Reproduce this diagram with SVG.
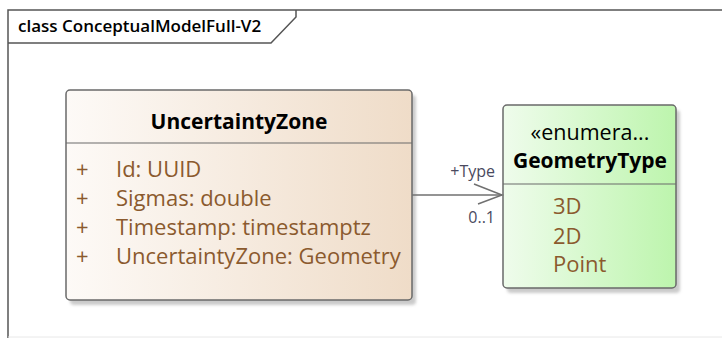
<svg xmlns="http://www.w3.org/2000/svg" width="722" height="338" viewBox="0 0 722 338">
<defs>
<linearGradient id="gBrown" x1="0" y1="0" x2="1" y2="0">
<stop offset="0" stop-color="#fdfaf7"/>
<stop offset="1" stop-color="#efdcc8"/>
</linearGradient>
<linearGradient id="gGreen" x1="0" y1="0" x2="1" y2="0">
<stop offset="0" stop-color="#effcec"/>
<stop offset="1" stop-color="#bdf5ad"/>
</linearGradient>
<filter id="sh" x="-10%" y="-10%" width="130%" height="130%">
<feGaussianBlur stdDeviation="1.5"/>
</filter>
</defs>
<style>
.frame{fill:none;stroke:#555;stroke-width:1.5}
.box{stroke:#6a6a6a;stroke-width:1.5}
.shadow{fill:#a8a8a8;opacity:0.6}
.div{stroke:#6a6a6a;stroke-width:1.2}
.title{font-family:"Open Sans","Liberation Sans",sans-serif;font-weight:bold;font-size:21px;fill:#000}
.attr{font-family:"Open Sans","Liberation Sans",sans-serif;font-size:22px;fill:#8b5a2e}
.lbl{font-family:"Open Sans","Liberation Sans",sans-serif;font-size:16px;fill:#4a4a60}
.conn{stroke:#707070;stroke-width:1.5;fill:none}
</style>
<rect x="0" y="0" width="722" height="338" fill="#fff"/>
<g id="frame">
<path class="frame" d="M8,338 L8,10 L722,10"/>
<path class="frame" d="M8,43 L271,43 L296,17 L296,10"/>
<line x1="8" y1="337" x2="722" y2="337" stroke="#e8e8e8" stroke-width="1"/>
<text x="18" y="32" font-family="'Open Sans','Liberation Sans',sans-serif" font-size="17px" font-weight="600" fill="#000">class ConceptualModelFull-V2</text>
</g>
<g id="UncertaintyZone">
<rect class="shadow" x="70" y="95" width="346" height="210" rx="4" filter="url(#sh)"/>
<rect class="box" x="66" y="90" width="346" height="210" rx="4" fill="url(#gBrown)"/>
<line class="div" x1="66" y1="143" x2="412" y2="143"/>
<text class="title" x="239" y="129" text-anchor="middle">UncertaintyZone</text>
<text class="attr" x="76" y="177">+</text>
<text class="attr" x="116" y="177">Id: UUID</text>
<text class="attr" x="76" y="206">+</text>
<text class="attr" x="116" y="206">Sigmas: double</text>
<text class="attr" x="76" y="235">+</text>
<text class="attr" x="116" y="235">Timestamp: timestamptz</text>
<text class="attr" x="76" y="264">+</text>
<text class="attr" x="116" y="264">UncertaintyZone: Geometry</text>
</g>
<g id="GeometryType">
<rect class="shadow" x="507" y="110" width="173" height="183" rx="4" filter="url(#sh)"/>
<rect class="box" x="503" y="105" width="173" height="183" rx="4" fill="url(#gGreen)"/>
<line class="div" x1="503" y1="184" x2="676" y2="184"/>
<text x="590" y="140" text-anchor="middle" font-family="'Open Sans','Liberation Sans',sans-serif" font-size="21.5px" fill="#000">«enumera...</text>
<text class="title" x="590" y="168" text-anchor="middle">GeometryType</text>
<text class="attr" x="553" y="214">3D</text>
<text class="attr" x="553" y="244">2D</text>
<text class="attr" x="553" y="272">Point</text>
</g>
<g id="connectors">
<line class="conn" x1="412" y1="195" x2="502" y2="195"/>
<path class="conn" d="M474,184 L502,195 L478,204"/>
<text class="lbl" x="495" y="177" text-anchor="end">+Type</text>
<text class="lbl" x="495" y="223" text-anchor="end">0..1</text>
</g>
</svg>
